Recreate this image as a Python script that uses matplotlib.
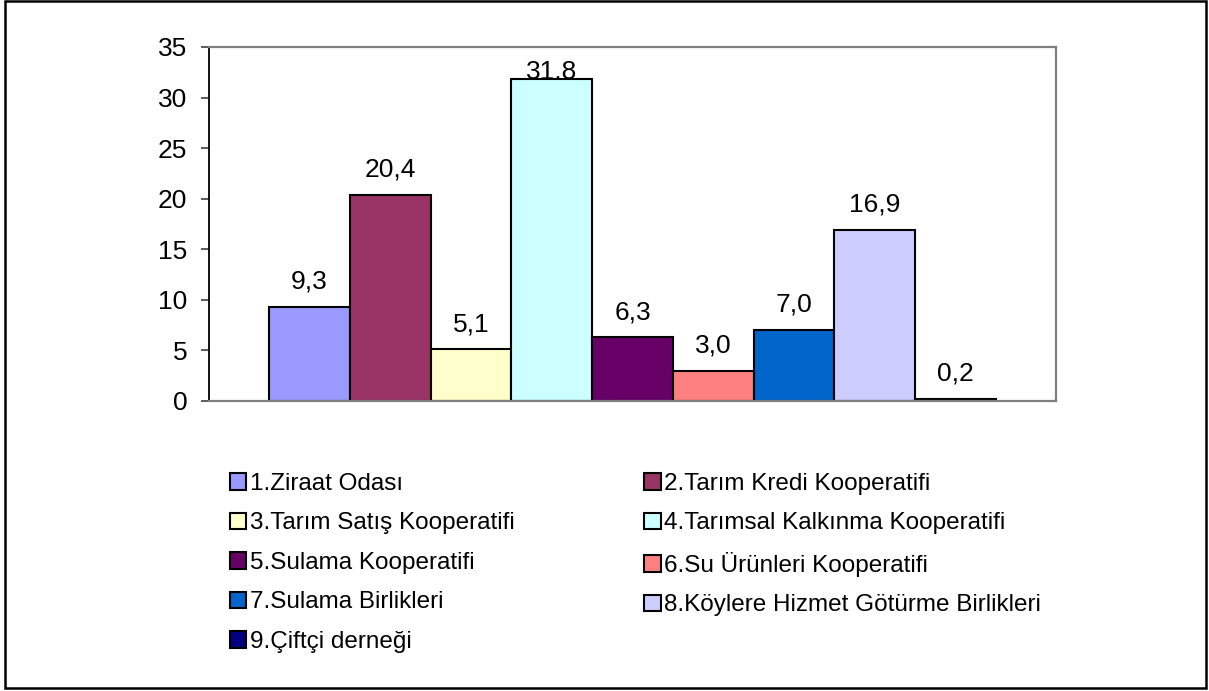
import matplotlib
matplotlib.use("Agg")
import matplotlib.pyplot as plt
from matplotlib.patches import Rectangle, Patch
import numpy as np

plt.rcParams['font.family'] = ['Liberation Sans', 'DejaVu Sans']

categories = ["1.Ziraat Odası", "2.Tarım Kredi Kooperatifi", "3.Tarım Satış Kooperatifi",
              "4.Tarımsal Kalkınma Kooperatifi", "5.Sulama Kooperatifi",
              "6.Su Ürünleri Kooperatifi", "7.Sulama Birlikleri",
              "8.Köylere Hizmet Götürme Birlikleri", "9.Çiftçi derneği"]
values = [9.3, 20.4, 5.1, 31.8, 6.3, 3.0, 7.0, 16.9, 0.2]
colors = ["#9999FF", "#993366", "#FFFFCC", "#CCFFFF", "#660066",
          "#FF8080", "#0066CC", "#CCCCFF", "#000080"]
yticks = [0, 5, 10, 15, 20, 25, 30, 35]

W, H = 1209, 691
fig = plt.figure(figsize=(W / 100, H / 100), dpi=100)
fig.patch.set_facecolor("white")

left, right, top, bottom = 209, 1056, 47, 401
ax = fig.add_axes([left / W, 1 - bottom / H, (right - left) / W, (bottom - top) / H])

FS = 19
LFS = 17.5
x = np.arange(len(values))
bars = ax.bar(x, values, width=1.0, color=colors, edgecolor="black", linewidth=1.5, zorder=2)

ax.set_ylim(0, 35)
pad_units = 0.743
ax.set_xlim(-0.5 - pad_units, len(values) - 0.5 + pad_units)
ax.set_yticks(yticks)
ax.set_yticklabels([str(t) for t in yticks], fontsize=FS)
ax.set_xticks([])
ax.tick_params(axis="y", length=6, width=1.2, color="#404040", pad=9.5, direction="out")

for side in ["top", "right", "bottom"]:
    ax.spines[side].set_color("#808080")
    ax.spines[side].set_linewidth(1.6)
ax.spines["left"].set_color("black")
ax.spines["left"].set_linewidth(1.3)

ymax = 35
for xi, v in zip(x, values):
    ly = min(v + 1.8, ymax - 3.15)
    ax.text(xi, ly, f"{v:.1f}".replace(".", ","), ha="center", va="baseline",
            fontsize=FS, zorder=1)

# legend (row-wise order in two columns)
handles = [Patch(facecolor=c, edgecolor="black", linewidth=1.5) for c in colors]
order = [0, 2, 4, 6, 8, 1, 3, 5, 7]
leg = fig.legend([handles[i] for i in order], [categories[i] for i in order],
                 ncol=2, loc="upper left",
                 bbox_to_anchor=(230 / W, 1 - 473 / H),
                 frameon=False, fontsize=LFS, borderpad=0, borderaxespad=0,
                 handlelength=0.66, handleheight=0.66, handletextpad=0.15,
                 labelspacing=0.72, columnspacing=5.35)

# outer border
fig.patches.append(Rectangle((5.0 / W, 3 / H), (1206 - 5.0) / W, (690 - 3) / H,
                             transform=fig.transFigure, fill=False,
                             edgecolor="black", linewidth=1.8))

fig.savefig("out.png", dpi=100)
